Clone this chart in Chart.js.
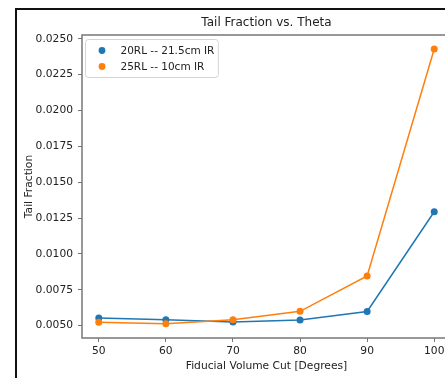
<!DOCTYPE html>
<html>
<head>
<meta charset="utf-8">
<script src="https://cdn.jsdelivr.net/npm/chart.js@4.4.1/dist/chart.umd.min.js"></script>
<style>
  html, body { margin: 0; padding: 0; background: #fff; overflow: hidden; width: 445px; height: 378px; }
  #frame { position: absolute; left: 15px; top: 8px; width: 600px; height: 600px;
           border-left: 2px solid #111; border-top: 2px solid #111; }
  canvas { position: absolute; left: 0; top: 0; }
</style>
</head>
<body>
<div id="frame"></div>
<canvas id="c" width="480" height="378"></canvas>
<script>
// Fiducial volume cut angles (degrees)
const angles = [50, 60, 70, 80, 90, 100];
// Tail fraction for each configuration
const tail20RL = [0.00553, 0.00542, 0.00526, 0.00540, 0.00599, 0.01294];
const tail25RL = [0.00523, 0.00514, 0.00542, 0.00600, 0.00847, 0.02428];
const seriesLabels = ['20RL -- 21.5cm IR', '25RL -- 10cm IR'];
// Axis tick positions
const xTicks = [50, 60, 70, 80, 90, 100];
const yTicks = [0.0050, 0.0075, 0.0100, 0.0125, 0.0150, 0.0175, 0.0200, 0.0225, 0.0250];

const FONT = '"DejaVu Sans", "Liberation Sans", sans-serif';
const TEXT = '#222';
const SPINE = '#777';

const toPoints = ys => angles.map((a, i) => ({ x: a, y: ys[i] }));

// Axes box drawn on all four sides
const spines = {
  id: 'spines',
  beforeDatasetsDraw(chart) {
    const { ctx, chartArea: a } = chart;
    ctx.save();
    ctx.strokeStyle = SPINE;
    ctx.lineWidth = 1.5;
    ctx.strokeRect(a.left, a.top, a.right - a.left, a.bottom - a.top);
    ctx.restore();
  }
};

// Boxed legend in the upper-left corner of the plot area
const boxLegend = {
  id: 'boxLegend',
  afterDatasetsDraw(chart) {
    const { ctx, chartArea: a } = chart;
    const ds = chart.data.datasets;
    ctx.save();
    ctx.font = '10.5px ' + FONT;
    const textW = Math.max(...ds.map(d => ctx.measureText(d.label).width));
    const x0 = a.left + 3.5, y0 = a.top + 4.5;
    const w = 35 + textW + 4, h = 38;
    ctx.beginPath();
    ctx.roundRect(x0, y0, w, h, 3);
    ctx.fillStyle = 'rgba(255,255,255,0.8)';
    ctx.fill();
    ctx.strokeStyle = '#d4d4d4';
    ctx.lineWidth = 1;
    ctx.stroke();
    ds.forEach((d, i) => {
      const cy = y0 + 11 + i * 16;
      ctx.beginPath();
      ctx.arc(x0 + 16.5, cy, 3.4, 0, Math.PI * 2);
      ctx.fillStyle = d.borderColor;
      ctx.fill();
      ctx.fillStyle = TEXT;
      ctx.textBaseline = 'middle';
      ctx.textAlign = 'left';
      ctx.fillText(d.label, x0 + 35, cy + 0.5);
    });
    ctx.restore();
  }
};

const tickFont = { family: FONT, size: 10.7 };

new Chart(document.getElementById('c'), {
  type: 'line',
  data: {
    datasets: [
      { label: seriesLabels[0], data: toPoints(tail20RL), borderColor: '#1f77b4', backgroundColor: '#1f77b4',
        borderWidth: 1.5, pointRadius: 3.5, pointBorderWidth: 0, order: 2 },
      { label: seriesLabels[1], data: toPoints(tail25RL), borderColor: '#ff7f0e', backgroundColor: '#ff7f0e',
        borderWidth: 1.5, pointRadius: 3.5, pointBorderWidth: 0, order: 1 }
    ]
  },
  options: {
    responsive: false,
    animation: false,
    devicePixelRatio: 1,
    layout: { padding: { left: 0, right: 29, top: 0, bottom: 0 } },
    plugins: {
      legend: { display: false },
      tooltip: { enabled: false },
      title: {
        display: true, fullSize: false, text: 'Tail Fraction vs. Theta', color: TEXT,
        font: { family: FONT, size: 12, weight: 'normal' },
        padding: { top: 15.8, bottom: 4.8 }
      }
    },
    scales: {
      x: {
        type: 'linear', min: 47.5, max: 102.5,
        afterBuildTicks: s => { s.ticks = xTicks.map(v => ({ value: v })); },
        afterFit: s => { s.height = 40; },
        grid: { drawOnChartArea: false, drawTicks: true, tickLength: 4, tickColor: SPINE, tickWidth: 1 },
        border: { display: false },
        ticks: { padding: 3, color: TEXT, font: tickFont, maxRotation: 0, autoSkip: false,
                 callback: v => String(v) },
        title: { display: true, text: 'Fiducial Volume Cut [Degrees]', color: TEXT, font: tickFont,
                 padding: { top: 0, bottom: 4.9 } }
      },
      y: {
        type: 'linear', min: 0.00414, max: 0.02526,
        afterBuildTicks: s => { s.ticks = yTicks.map(v => ({ value: v })); },
        afterFit: s => { s.width = 82; },
        grid: { drawOnChartArea: false, drawTicks: true, tickLength: 4, tickColor: SPINE, tickWidth: 1 },
        border: { display: false },
        ticks: { padding: 5, color: TEXT, font: tickFont, autoSkip: false,
                 callback: v => v.toFixed(4) },
        title: { display: true, text: 'Tail Fraction', color: TEXT, font: tickFont,
                 padding: { top: 23, bottom: 23 } }
      }
    }
  },
  plugins: [spines, boxLegend]
});
</script>
</body>
</html>
